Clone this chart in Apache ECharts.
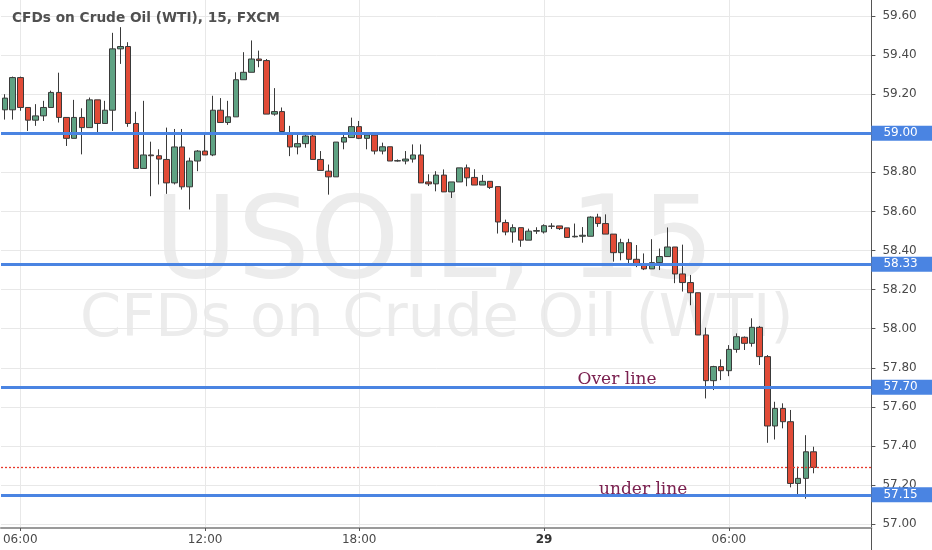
<!DOCTYPE html>
<html><head><meta charset="utf-8">
<script src="https://cdn.jsdelivr.net/npm/echarts@6/dist/echarts.min.js"></script>
<style>html,body{margin:0;padding:0;background:#fff}#c{width:932px;height:550px}</style>
</head><body><div id="c"></div>
<script>
const categories = [
'28 05:30','28 05:45',
'28 06:00','28 06:15','28 06:30','28 06:45','28 07:00','28 07:15','28 07:30','28 07:45',
'28 08:00','28 08:15','28 08:30','28 08:45','28 09:00','28 09:15','28 09:30','28 09:45',
'28 10:00','28 10:15','28 10:30','28 10:45','28 11:00','28 11:15','28 11:30','28 11:45',
'28 12:00','28 12:15','28 12:30','28 12:45','28 13:00','28 13:15','28 13:30','28 13:45',
'28 14:00','28 14:15','28 14:30','28 14:45','28 15:00','28 15:15','28 15:30','28 15:45',
'28 17:00','28 17:15','28 17:30','28 17:45',
'28 18:00','28 18:15','28 18:30','28 18:45','28 19:00','28 19:15','28 19:30','28 19:45',
'28 20:00','28 20:15','28 20:30','28 20:45','28 21:00','28 21:15','28 21:30','28 21:45',
'28 22:00','28 22:15','28 22:30','28 22:45','28 23:00','28 23:15','28 23:30','28 23:45',
'29 00:00','29 00:15','29 00:30','29 00:45','29 01:00','29 01:15','29 01:30','29 01:45',
'29 02:00','29 02:15','29 02:30','29 02:45','29 03:00','29 03:15','29 03:30','29 03:45',
'29 04:00','29 04:15','29 04:30','29 04:45','29 05:00','29 05:15','29 05:30','29 05:45',
'29 06:00','29 06:15','29 06:30','29 06:45','29 07:00','29 07:15','29 07:30','29 07:45',
'29 08:00','29 08:15','29 08:30','29 08:45','29 09:00','29 09:15','29 09:30','29 09:45',
'29 10:00','29 10:15','29 10:30'
];

const opens = [
59.12,59.12,59.285,59.132,59.067,59.089,59.132,59.209,59.081,58.974,
59.081,59.029,59.171,59.05,59.118,59.432,59.444,59.05,58.82,58.889,
58.885,58.866,58.746,58.93,58.726,58.858,58.909,58.889,59.118,59.055,
59.084,59.274,59.312,59.38,59.372,59.098,59.111,59.0,58.93,58.947,
58.986,58.866,58.806,58.777,58.955,58.978,59.034,58.974,58.991,58.909,
58.931,58.858,58.858,58.868,58.889,58.751,58.741,58.786,58.7,58.751,
58.823,58.774,58.735,58.754,58.727,58.543,58.495,58.517,58.453,58.499,
58.495,58.525,58.526,58.516,58.47,58.473,58.473,58.571,58.538,58.484,
58.389,58.44,58.355,58.332,58.306,58.338,58.369,58.418,58.28,58.236,
58.184,57.968,57.734,57.806,57.785,57.894,57.956,57.925,58.007,57.857,
57.502,57.592,57.524,57.208,57.234,57.37
];
const closes = [
59.18,59.285,59.132,59.067,59.089,59.132,59.209,59.081,58.974,59.081,
59.029,59.171,59.05,59.118,59.432,59.444,59.05,58.82,58.889,58.885,
58.868,58.746,58.93,58.726,58.858,58.909,58.889,59.118,59.055,59.084,
59.274,59.312,59.38,59.372,59.098,59.111,59.009,58.93,58.947,58.986,
58.866,58.81,58.777,58.955,58.978,59.034,58.974,58.991,58.909,58.931,
58.858,58.86,58.868,58.889,58.746,58.741,58.786,58.7,58.751,58.823,
58.772,58.735,58.754,58.723,58.546,58.495,58.517,58.453,58.499,58.502,
58.527,58.524,58.512,58.467,58.473,58.478,58.571,58.538,58.484,58.389,
58.44,58.355,58.332,58.306,58.338,58.369,58.418,58.28,58.236,58.184,
57.968,57.734,57.806,57.785,57.894,57.959,57.925,58.007,57.857,57.502,
57.592,57.524,57.208,57.234,57.37,57.29
];
const lows = [
59.07,59.07,59.115,59.012,59.038,59.063,59.132,59.055,58.935,58.974,
58.892,59.029,59.003,59.05,59.012,59.355,59.033,58.82,58.82,58.678,
58.738,58.69,58.738,58.712,58.61,58.806,58.889,58.883,59.055,59.043,
59.084,59.274,59.312,59.338,59.098,59.09,59.0,58.883,58.892,58.926,
58.866,58.81,58.686,58.777,58.918,58.978,58.97,58.918,58.892,58.892,
58.858,58.855,58.841,58.85,58.746,58.73,58.703,58.7,58.669,58.751,
58.729,58.735,58.735,58.715,58.487,58.478,58.44,58.419,58.453,58.485,
58.487,58.51,58.505,58.467,58.467,58.44,58.473,58.521,58.484,58.343,
58.35,58.335,58.315,58.3,58.306,58.3,58.369,58.233,58.19,58.12,
57.968,57.643,57.686,57.737,57.757,57.877,57.891,57.908,57.814,57.416,
57.433,57.49,57.188,57.141,57.13,57.26
];
const highs = [
59.20,59.29,59.29,59.132,59.149,59.166,59.218,59.31,59.081,59.171,
59.128,59.183,59.171,59.166,59.514,59.543,59.466,59.11,59.166,58.957,
58.918,59.029,59.022,59.022,58.875,58.914,59.0,59.192,59.18,59.166,
59.312,59.415,59.475,59.423,59.38,59.231,59.132,59.038,58.995,58.995,
58.995,58.909,58.84,58.955,58.995,59.08,59.063,58.995,58.991,58.952,
58.931,58.866,58.909,58.943,58.943,58.79,58.806,58.815,58.751,58.823,
58.84,58.816,58.787,58.754,58.727,58.558,58.534,58.517,58.512,58.519,
58.534,58.54,58.526,58.516,58.538,58.52,58.575,58.588,58.585,58.484,
58.46,58.46,58.428,58.385,58.458,58.41,58.518,58.418,58.43,58.275,
58.184,58.005,57.81,57.843,57.916,57.976,57.96,58.053,58.014,57.865,
57.626,57.618,57.584,57.294,57.455,57.396
];

const levels = [59.00, 58.33, 57.70, 57.15];
const lastPrice = 57.29;
const yTickValues = [57.00,57.20,57.40,57.60,57.80,58.00,58.20,58.40,58.60,58.80,59.00,59.20,59.40,59.60];
const xTickNames = ['28 06:00','28 12:00','28 18:00','29 00:00','29 06:00'];
const xTickTexts = ['06:00','12:00','18:00','29','06:00'];
const notes = [
  {text: 'Over line', at: '29 02:30', price: 57.74, shift: -4},
  {text: 'under line', at: '29 03:15', price: 57.175, shift: -1}
];

const candleData = opens.map((o, i) => [o, closes[i], lows[i], highs[i]]);
const xTickIdx = xTickNames.map(n => categories.indexOf(n));
const isTick = (i) => xTickIdx.indexOf(i) >= 0;

const chart = echarts.init(document.getElementById('c'), null, {renderer: 'canvas'});
const axisFont = 'DejaVu Sans';
chart.setOption({
  animation: false,
  backgroundColor: '#ffffff',
  grid: {left: -4.3, right: 60.6, top: 0, bottom: 22, containLabel: false},
  graphic: [
    {type: 'text', z: -1, x: 154, y: 247, style: {text: 'USOIL, 15', font: '114px "DejaVu Sans"', fill: '#ececec', textVerticalAlign: 'middle', textAlign: 'left'}},
    {type: 'text', z: -1, x: 80, y: 321, style: {text: 'CFDs on Crude Oil (WTI)', font: '59px "DejaVu Sans"', fill: '#ececec', textVerticalAlign: 'middle', textAlign: 'left'}},
    {type: 'text', z: 10, x: 12, y: 18, style: {text: 'CFDs on Crude Oil (WTI), 15, FXCM', font: 'bold 13.7px "DejaVu Sans"', fill: '#505050', textVerticalAlign: 'middle', textAlign: 'left'}},
    {type: 'line', z: 10, shape: {x1: 871.5, y1: 528, x2: 871.5, y2: 550}, style: {stroke: '#555', lineWidth: 1}}
  ],
  xAxis: {
    type: 'category',
    data: categories,
    boundaryGap: true,
    axisLine: {show: true, lineStyle: {color: '#9a9a9a', width: 2}},
    axisTick: {show: true, alignWithLabel: true, length: 3, interval: (i) => isTick(i), lineStyle: {color: '#555'}},
    axisLabel: {
      interval: (i) => isTick(i),
      margin: 6,
      color: '#4a4a4a', fontSize: 12, fontFamily: axisFont,
      formatter: (v) => {
        const k = xTickNames.indexOf(v);
        if (k < 0) return '';
        return xTickTexts[k] === '29' ? '{b|29}' : xTickTexts[k];
      },
      rich: {b: {fontWeight: 'bold', fontSize: 12, fontFamily: axisFont, color: '#333'}}
    },
    splitLine: {show: true, alignWithLabel: true, interval: (i) => isTick(i), lineStyle: {color: '#e8e8e8', width: 1}}
  },
  yAxis: {
    type: 'value',
    position: 'right',
    min: 56.98,
    max: 59.682,
    scale: true,
    axisLine: {show: true, lineStyle: {color: '#555', width: 1}},
    axisTick: {show: true, length: 4, customValues: yTickValues, lineStyle: {color: '#555'}},
    axisLabel: {customValues: yTickValues, margin: 11, color: '#4a4a4a', fontSize: 12, fontFamily: axisFont, formatter: (v) => v.toFixed(2)},
    splitLine: {show: true, lineStyle: {color: '#e8e8e8', width: 1}}
  },
  series: [{
    type: 'candlestick',
    data: candleData,
    barWidth: 6,
    itemStyle: {color: '#5fa283', color0: '#e14b37', borderColor: '#3a3a3a', borderColor0: '#3a3a3a', borderWidth: 1},
    markLine: {
      silent: true,
      symbol: ['none', 'none'],
      animation: false,
      data: levels.map(v => ({
        yAxis: v,
        lineStyle: {color: '#4a84e2', width: 3, type: 'solid'},
        label: {show: true, position: 'end', distance: 0, formatter: () => v.toFixed(2),
          backgroundColor: '#4a84e2', color: '#ffffff', fontSize: 12, fontFamily: axisFont,
          padding: [2, 0, 1, 12], width: 49, align: 'left'}
      })).concat([{
        yAxis: lastPrice,
        lineStyle: {color: '#e8392b', width: 1.3, type: [2, 2]},
        label: {show: false}
      }])
    },
    markPoint: {
      silent: true,
      animation: false,
      symbol: 'rect',
      symbolSize: 1,
      itemStyle: {color: 'rgba(0,0,0,0)'},
      data: notes.map(n => ({
        coord: [n.at, n.price],
        label: {show: true, position: 'inside', offset: [n.shift, 0], formatter: n.text, color: '#7b2150', fontSize: 17, fontFamily: 'DejaVu Serif'}
      }))
    }
  }]
});
</script>
</body></html>
